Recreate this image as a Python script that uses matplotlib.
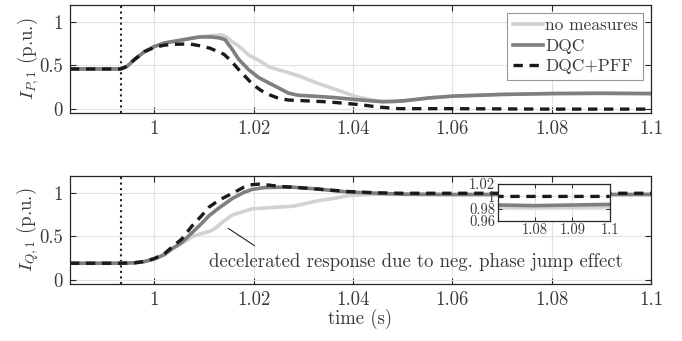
import matplotlib
matplotlib.use("Agg")
import matplotlib.pyplot as plt

plt.rcParams['font.family'] = 'serif'
plt.rcParams['font.serif'] = ['cmr10']
plt.rcParams['mathtext.fontset'] = 'cm'
plt.rcParams['axes.formatter.use_mathtext'] = True
plt.rcParams['axes.unicode_minus'] = False

# active current I_P,1
tp_nm = [0.983, 0.9932, 0.9945, 0.996, 0.998, 1.0, 1.002, 1.004, 1.006, 1.009, 1.0115, 1.0134,
         1.0145, 1.0155, 1.0171, 1.019, 1.021, 1.0232, 1.025, 1.028, 1.030, 1.0326, 1.0366, 1.0406,
         1.0447, 1.048, 1.05, 1.0554, 1.06, 1.07, 1.08, 1.09, 1.1]
ip_nm = [0.46, 0.46, 0.49, 0.57, 0.66, 0.72, 0.76, 0.78, 0.80, 0.83, 0.845, 0.855,
         0.83, 0.78, 0.72, 0.62, 0.56, 0.48, 0.45, 0.40, 0.36, 0.30, 0.22, 0.14,
         0.09, 0.08, 0.09, 0.125, 0.145, 0.165, 0.175, 0.178, 0.175]
tp_dqc = [0.983, 0.9932, 0.9945, 0.996, 0.998, 1.0, 1.002, 1.004, 1.006, 1.009, 1.0115, 1.013,
          1.0142, 1.0155, 1.017, 1.019, 1.021, 1.023, 1.025, 1.027, 1.029, 1.0326, 1.036, 1.0406,
          1.046, 1.05, 1.0554, 1.06, 1.07, 1.08, 1.09, 1.1]
ip_dqc = [0.46, 0.46, 0.49, 0.57, 0.66, 0.72, 0.76, 0.78, 0.80, 0.83, 0.83, 0.82,
          0.80, 0.70, 0.57, 0.45, 0.36, 0.30, 0.24, 0.18, 0.155, 0.143, 0.13, 0.105,
          0.08, 0.09, 0.125, 0.145, 0.165, 0.175, 0.178, 0.175]
tp_pff = [0.983, 0.9932, 0.9945, 0.996, 0.998, 1.0, 1.002, 1.004, 1.007, 1.009, 1.0112, 1.0124,
          1.014, 1.0155, 1.017, 1.0185, 1.0198, 1.0215, 1.0232, 1.025, 1.027, 1.0298, 1.0352,
          1.0413, 1.045, 1.0493, 1.06, 1.08, 1.1]
ip_pff = [0.46, 0.46, 0.49, 0.57, 0.66, 0.71, 0.735, 0.745, 0.75, 0.73, 0.70, 0.67,
          0.63, 0.55, 0.45, 0.36, 0.28, 0.21, 0.16, 0.12, 0.10, 0.093, 0.078,
          0.047, 0.02, 0.0, 0.0, -0.005, -0.005]

# reactive current I_Q,1
tq_nm = [0.983, 0.9932, 0.996, 0.998, 1.0, 1.002, 1.0036, 1.0055, 1.0077, 1.0095, 1.0112,
         1.0124, 1.0138, 1.0157, 1.0197, 1.025, 1.028, 1.0326, 1.036, 1.0393, 1.045, 1.05, 1.06,
         1.08, 1.1]
iq_nm = [0.19, 0.19, 0.195, 0.21, 0.24, 0.29, 0.355, 0.42, 0.50, 0.535, 0.56,
         0.60, 0.67, 0.75, 0.82, 0.84, 0.85, 0.91, 0.94, 0.975, 0.99, 0.985, 0.983,
         0.982, 0.983]
tq_dqc = [0.983, 0.9932, 0.996, 0.998, 1.0, 1.002, 1.0036, 1.0055, 1.0077, 1.0095, 1.011,
          1.013, 1.0157, 1.018, 1.0197, 1.022, 1.025, 1.028, 1.0326, 1.039, 1.045, 1.05, 1.06,
          1.07, 1.08, 1.09, 1.1]
iq_dqc = [0.19, 0.19, 0.195, 0.21, 0.24, 0.29, 0.36, 0.43, 0.55, 0.65, 0.74,
          0.83, 0.94, 1.01, 1.045, 1.065, 1.07, 1.07, 1.05, 1.015, 1.0, 0.99, 0.986,
          0.986, 0.985, 0.986, 0.987]
tq_pff = [0.983, 0.9932, 0.996, 0.998, 1.0, 1.002, 1.0036, 1.0055, 1.0077, 1.0095, 1.011,
          1.013, 1.0157, 1.018, 1.0197, 1.021, 1.023, 1.025, 1.028, 1.0326, 1.039, 1.045, 1.05,
          1.06, 1.08, 1.1]
iq_pff = [0.19, 0.19, 0.195, 0.21, 0.245, 0.30, 0.38, 0.47, 0.63, 0.74, 0.84,
          0.92, 1.0, 1.07, 1.10, 1.105, 1.095, 1.08, 1.07, 1.05, 1.02, 1.005, 1.0,
          1.0, 1.0, 1.0]

t_fault = 0.9932
labels = ["no measures", "DQC", "DQC+PFF"]
xticks = [1, 1.02, 1.04, 1.06, 1.08, 1.1]
xticklabels = ["1", "1.02", "1.04", "1.06", "1.08", "1.1"]
yticks = [0, 0.5, 1]
yticklabels = ["0", "0.5", "1"]

c_nm, c_dqc, c_pff = '#d2d2d2', '#7f7f7f', '#1a1a1a'
axc = '#262626'
txc = '#3a3a3a'
fs = 13.5


def style(ax):
    ax.set_xlim(0.983, 1.1)
    ax.set_ylim(-0.05, 1.2)
    ax.set_xticks(xticks)
    ax.set_xticklabels(xticklabels)
    ax.set_yticks(yticks)
    ax.set_yticklabels(yticklabels)
    ax.grid(True, color='#e2e2e2', lw=0.8)
    ax.set_axisbelow(True)
    ax.tick_params(direction='in', top=True, right=True, length=4, width=0.8,
                   colors=axc, labelsize=fs, labelcolor=txc, pad=5)
    for s in ax.spines.values():
        s.set_color(axc)
        s.set_linewidth(0.9)
    ax.axvline(t_fault, color='#222222', ls=':', lw=1.5)


def draw(ax, t1, y1, t2, y2, t3, y3):
    ax.plot(t1, y1, color=c_nm, lw=2.6, label=labels[0])
    ax.plot(t2, y2, color=c_dqc, lw=2.6, label=labels[1])
    ax.plot(t3, y3, color=c_pff, lw=2.4, dashes=(2.8, 2.0), label=labels[2])


fig = plt.figure(figsize=(6.82, 3.41), dpi=100)
ax1 = fig.add_axes([0.1026, 0.6686, 0.852, 0.3167])
ax2 = fig.add_axes([0.1026, 0.1672, 0.852, 0.3167])

style(ax1)
draw(ax1, tp_nm, ip_nm, tp_dqc, ip_dqc, tp_pff, ip_pff)
ax1.set_ylabel(r'$I_{P,1}$ (p.u.)', fontsize=fs, color=txc, labelpad=-1)
leg = ax1.legend(loc='upper right', fontsize=12.5, fancybox=False, framealpha=1,
                 edgecolor='#999999', handlelength=1.75, handletextpad=0.12,
                 labelspacing=0.3, borderpad=0.3, borderaxespad=0.45)
leg.get_frame().set_linewidth(0.8)
for txt in leg.get_texts():
    txt.set_color(txc)

style(ax2)
draw(ax2, tq_nm, iq_nm, tq_dqc, iq_dqc, tq_pff, iq_pff)
ax2.set_ylabel(r'$I_{Q,1}$ (p.u.)', fontsize=fs, color=txc, labelpad=-1)
ax2.set_xlabel('time (s)', fontsize=fs, color=txc, labelpad=0)

ax2.plot([1.0149, 1.0201], [0.593, 0.395], color='#222222', lw=0.8)
ax2.text(1.0527, 0.21, 'decelerated response due to neg. phase jump effect',
         ha='center', va='center', fontsize=fs, color=txc)

# inset zoom
axi = fig.add_axes([0.730, 0.352, 0.164, 0.108])
draw(axi, tq_nm, iq_nm, tq_dqc, iq_dqc, tq_pff, iq_pff)
axi.set_xlim(1.07, 1.1)
axi.set_ylim(0.96, 1.02)
axi.set_xticks([1.08, 1.09, 1.1])
axi.set_xticklabels(["1.08", "1.09", "1.1"])
axi.set_yticks([0.96, 0.98, 1, 1.02])
axi.set_yticklabels(["0.96", "0.98", "1", "1.02"])
axi.grid(True, color='#e2e2e2', lw=0.8)
axi.set_axisbelow(True)
axi.tick_params(direction='in', top=True, right=True, length=3, width=0.7,
                colors=axc, labelsize=10.5, labelcolor=txc, pad=2)
for s in axi.spines.values():
    s.set_color(axc)
    s.set_linewidth(0.9)

fig.savefig('out.png', dpi=100)
